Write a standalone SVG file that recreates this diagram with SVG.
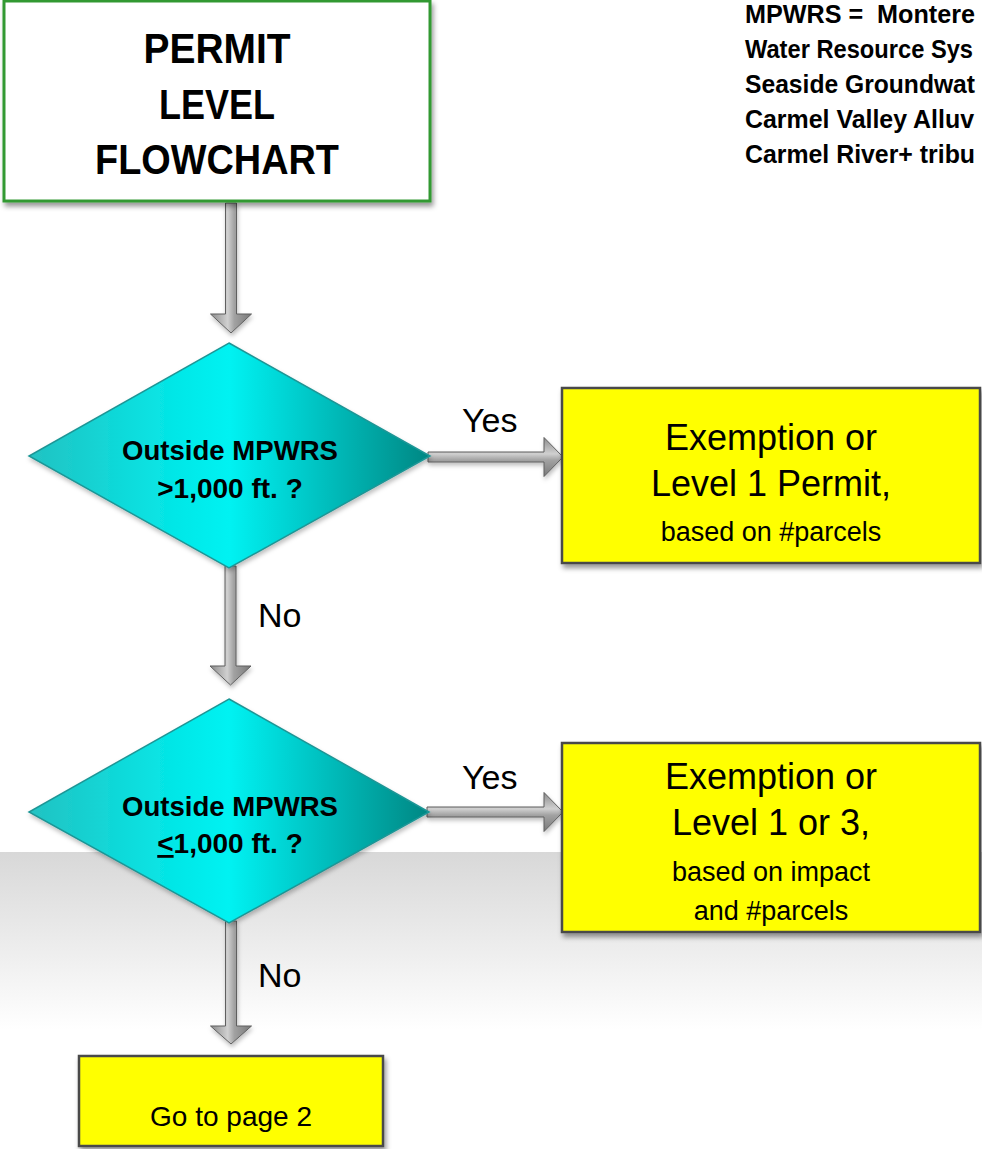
<svg xmlns="http://www.w3.org/2000/svg" width="982" height="1149" viewBox="0 0 982 1149">
<defs>
<style>
.t{font-family:"Liberation Sans",Arial,sans-serif;fill:#000;}
.b{font-weight:bold;}
.title{font-size:42px;}
.leg{font-size:25px;}
.dia{font-size:28px;}
.big{font-size:36px;}
.small{font-size:27px;}
.lbl{font-size:34px;}
.go{font-size:28px;}
.ybox{fill:#ffff00;stroke:#4a4a4a;stroke-width:2.5;}
.diam{fill:url(#gDia);stroke:#1f9696;stroke-width:1.5;}
.av{fill:url(#gArrV);stroke:#5f5f5f;stroke-width:1;}
.ah{fill:url(#gArrH);stroke:#5f5f5f;stroke-width:1;}
</style>
<linearGradient id="gBg" x1="0" y1="0" x2="0" y2="1">
<stop offset="0" stop-color="#d8d8d8"/>
<stop offset="0.6" stop-color="#ffffff"/>
<stop offset="1" stop-color="#ffffff"/>
</linearGradient>
<linearGradient id="gDia" x1="0" y1="0" x2="1" y2="0">
<stop offset="0" stop-color="#22c2c2"/>
<stop offset="0.35" stop-color="#05e6e6"/>
<stop offset="0.5" stop-color="#00f2f2"/>
<stop offset="0.65" stop-color="#00d2d2"/>
<stop offset="1" stop-color="#008783"/>
</linearGradient>
<linearGradient id="gArrV" x1="0" y1="0" x2="1" y2="0">
<stop offset="0" stop-color="#8a8a8a"/>
<stop offset="0.42" stop-color="#d0d0d0"/>
<stop offset="0.58" stop-color="#a2a2a2"/>
<stop offset="1" stop-color="#787878"/>
</linearGradient>
<linearGradient id="gArrH" x1="0" y1="0" x2="0" y2="1">
<stop offset="0" stop-color="#8a8a8a"/>
<stop offset="0.42" stop-color="#d0d0d0"/>
<stop offset="0.58" stop-color="#a2a2a2"/>
<stop offset="1" stop-color="#787878"/>
</linearGradient>
<filter id="sh" x="-10%" y="-10%" width="125%" height="130%">
<feDropShadow dx="2" dy="4" stdDeviation="2.5" flood-color="#000" flood-opacity="0.4"/>
</filter>
<filter id="shA" x="-30%" y="-10%" width="160%" height="130%">
<feDropShadow dx="1" dy="3" stdDeviation="2" flood-color="#000" flood-opacity="0.25"/>
</filter>
</defs>

<rect x="0" y="0" width="982" height="1149" fill="#ffffff"/>
<rect x="0" y="852" width="982" height="297" fill="url(#gBg)"/>

<g id="legend">
<text class="t b leg" x="745" y="23" textLength="230" lengthAdjust="spacingAndGlyphs">MPWRS =&#160; Montere</text>
<text class="t b leg" x="745" y="58" textLength="228" lengthAdjust="spacingAndGlyphs">Water Resource Sys</text>
<text class="t b leg" x="745" y="93" textLength="230" lengthAdjust="spacingAndGlyphs">Seaside Groundwat</text>
<text class="t b leg" x="745" y="128" textLength="229" lengthAdjust="spacingAndGlyphs">Carmel Valley Alluv</text>
<text class="t b leg" x="745" y="163" textLength="230" lengthAdjust="spacingAndGlyphs">Carmel River+ tribu</text>
</g>

<g id="connectors">
<polygon class="av" filter="url(#shA)" points="225.5,203 236.5,203 236.5,314 251.5,314 231,333 210.5,314 225.5,314"/>
<polygon class="ah" filter="url(#shA)" points="428,452 544,452 544,437.5 563,457 544,476.5 544,462 428,462"/>
<polygon class="av" filter="url(#shA)" points="225,566 236,566 236,666 251,666 230.5,685 210,666 225,666"/>
<polygon class="ah" filter="url(#shA)" points="427,807 544,807 544,792.5 563,812 544,831.5 544,817 427,817"/>
<polygon class="av" filter="url(#shA)" points="225.5,921 236.5,921 236.5,1026 251.5,1026 231,1044 210.5,1026 225.5,1026"/>
<text class="t lbl" x="462" y="432">Yes</text>
<text class="t lbl" x="258" y="627">No</text>
<text class="t lbl" x="462" y="789">Yes</text>
<text class="t lbl" x="258" y="987">No</text>
</g>

<g id="title">
<rect x="4" y="1" width="426" height="200" fill="#ffffff" stroke="#339933" stroke-width="3" filter="url(#sh)"/>
<text class="t b title" x="217" y="63" text-anchor="middle" textLength="147" lengthAdjust="spacingAndGlyphs">PERMIT</text>
<text class="t b title" x="217" y="119" text-anchor="middle" textLength="116" lengthAdjust="spacingAndGlyphs">LEVEL</text>
<text class="t b title" x="217" y="174" text-anchor="middle" textLength="244" lengthAdjust="spacingAndGlyphs">FLOWCHART</text>
</g>

<g id="decision1">
<polygon class="diam" filter="url(#shA)" points="229,343 430,456 229,568 29,456"/>
<text class="t b dia" x="230" y="460" text-anchor="middle" textLength="216" lengthAdjust="spacingAndGlyphs">Outside MPWRS</text>
<text class="t b dia" x="230" y="498" text-anchor="middle">&gt;1,000 ft. ?</text>
</g>

<g id="result1">
<rect class="ybox" x="562" y="388" width="418" height="175" filter="url(#sh)"/>
<text class="t big" x="771" y="450" text-anchor="middle">Exemption or</text>
<text class="t big" x="771" y="496" text-anchor="middle">Level 1 Permit,</text>
<text class="t small" x="771" y="541" text-anchor="middle">based on #parcels</text>
</g>

<g id="decision2">
<polygon class="diam" filter="url(#shA)" points="229,699 429,812 229,923 29,812"/>
<text class="t b dia" x="230" y="816" text-anchor="middle" textLength="216" lengthAdjust="spacingAndGlyphs">Outside MPWRS</text>
<text class="t b dia" x="230" y="853" text-anchor="middle"><tspan text-decoration="underline">&lt;</tspan>1,000 ft. ?</text>
</g>

<g id="result2">
<rect class="ybox" x="562" y="743" width="418" height="189" filter="url(#sh)"/>
<text class="t big" x="771" y="789" text-anchor="middle">Exemption or</text>
<text class="t big" x="771" y="835" text-anchor="middle">Level 1 or 3,</text>
<text class="t small" x="771" y="881" text-anchor="middle">based on impact</text>
<text class="t small" x="771" y="920" text-anchor="middle">and #parcels</text>
</g>

<g id="page2">
<rect class="ybox" x="79" y="1056" width="304" height="90" filter="url(#sh)"/>
<text class="t go" x="231" y="1126" text-anchor="middle">Go to page 2</text>
</g>
</svg>
